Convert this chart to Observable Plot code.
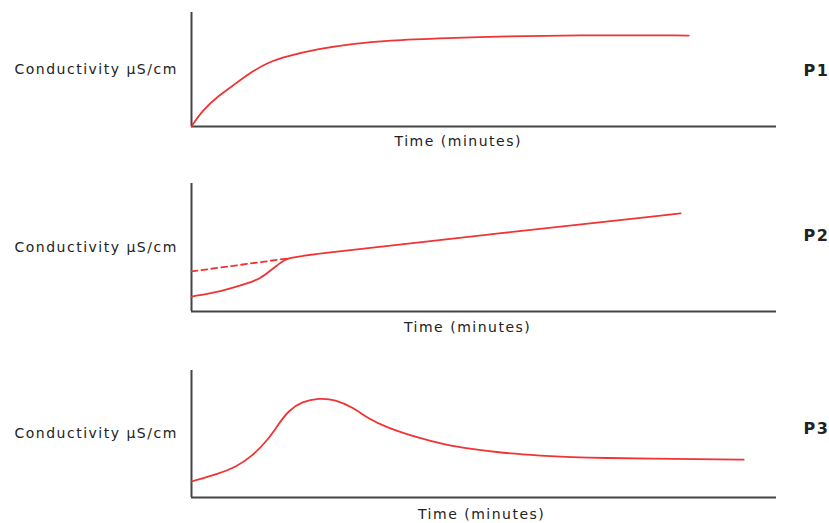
<!DOCTYPE html>
<html>
<head>
<meta charset="utf-8">
<script src="https://cdn.jsdelivr.net/npm/d3@7"></script>
<script src="https://cdn.jsdelivr.net/npm/@observablehq/plot@0.6"></script>
<style>
  html, body { margin: 0; padding: 0; background: #fff; }
  #chart svg { display: block; }
</style>
</head>
<body>
<div id="chart"></div>
<script>
// Panel P1: rapid rise then plateau
const p1Time = [0, 1.83, 4.67, 7.52, 10.4, 13.2, 16.1, 21.8, 27.5, 33.2, 44.3, 52.8, 69.9, 85];
const p1Cond = [0, 14.0, 27.2, 37.5, 48.5, 56.4, 61.4, 68.2, 72.5, 75.4, 77.6, 79.0, 80.3, 79.8];

// Panel P2: S-shaped start joining a linear rise, with dashed extrapolated baseline
const p2Time = [0, 5, 9.6, 11.8, 13.5, 15.2, 16.4, 18.6, 49.4, 83.6];
const p2Cond = [11.7, 15.6, 21.9, 25.8, 32, 38.3, 41.4, 43.8, 59.4, 76.6];
const p2DashTime = [0, 16.4];
const p2DashCond = [31.3, 41.4];

// Panel P3: peak then decay to plateau
const p3Time = [0, 4.67, 7.52, 10.4, 13.2, 14.9, 16.6, 18.9, 21.8, 24.6, 27.5, 30.3, 33.2, 38.9, 43.4, 47.7, 53.3, 59.1, 68.2, 94.4];
const p3Cond = [12.6, 18.7, 23.9, 32.5, 46.2, 58.0, 68.5, 75.6, 78.2, 77.2, 71.1, 62.0, 55.4, 46.7, 41.5, 38.3, 35.0, 33.1, 30.9, 29.9];

const yLabel = "Conductivity \u03bcS/cm";
const xLabel = "Time (minutes)";
const panelNames = ["P1", "P2", "P3"];

const toRows = (ts, cs) => ts.map((t, i) => ({t, c: cs[i]}));

const RED = "#f03434";
const AXIS = "#444";
const TEXT = "#222";

function panel({height, marginTop, marginBottom, series, dashed, name, nameDy, timeX, timeDy}) {
  const marks = [
    Plot.ruleX([0], {stroke: AXIS, strokeWidth: 2}),
    Plot.ruleY([0], {stroke: AXIS, strokeWidth: 2}),
  ];
  if (dashed) {
    marks.push(Plot.line(dashed, {x: "t", y: "c", stroke: RED, strokeWidth: 1.8, strokeDasharray: "6,4"}));
  }
  marks.push(
    Plot.line(series, {x: "t", y: "c", stroke: RED, strokeWidth: 1.8, curve: "basis"}),
    Plot.text([yLabel], {text: d => d, frameAnchor: "left", dx: -177, textAnchor: "start", fontSize: 14, fill: TEXT}),
    Plot.text([xLabel], {text: d => d, x: timeX, frameAnchor: "bottom", dy: timeDy, lineAnchor: "middle", fontSize: 14, fill: TEXT}),
    Plot.text([name], {text: d => d, frameAnchor: "right", dx: 40, dy: nameDy, textAnchor: "middle", fontSize: 16, fontWeight: "bold", fill: TEXT})
  );
  return Plot.plot({
    width: 829,
    height,
    marginLeft: 191,
    marginRight: 53,
    marginTop,
    marginBottom,
    x: {domain: [0, 100], axis: null},
    y: {domain: [0, 100], axis: null},
    style: {fontFamily: "DejaVu Sans", letterSpacing: "1.5px", background: "#fff", overflow: "visible"},
    marks
  });
}

const chart = document.getElementById("chart");
chart.append(panel({
  height: 160, marginTop: 12, marginBottom: 34,
  series: toRows(p1Time, p1Cond), name: panelNames[0], nameDy: 1, timeX: 45.6, timeDy: 15
}));
chart.append(panel({
  height: 185, marginTop: 23, marginBottom: 34,
  series: toRows(p2Time, p2Cond), dashed: toRows(p2DashTime, p2DashCond),
  name: panelNames[1], nameDy: -12, timeX: 47.2, timeDy: 16
}));
chart.append(panel({
  height: 178, marginTop: 25, marginBottom: 26,
  series: toRows(p3Time, p3Cond), name: panelNames[2], nameDy: -5, timeX: 49.6, timeDy: 17
}));
</script>
</body>
</html>
